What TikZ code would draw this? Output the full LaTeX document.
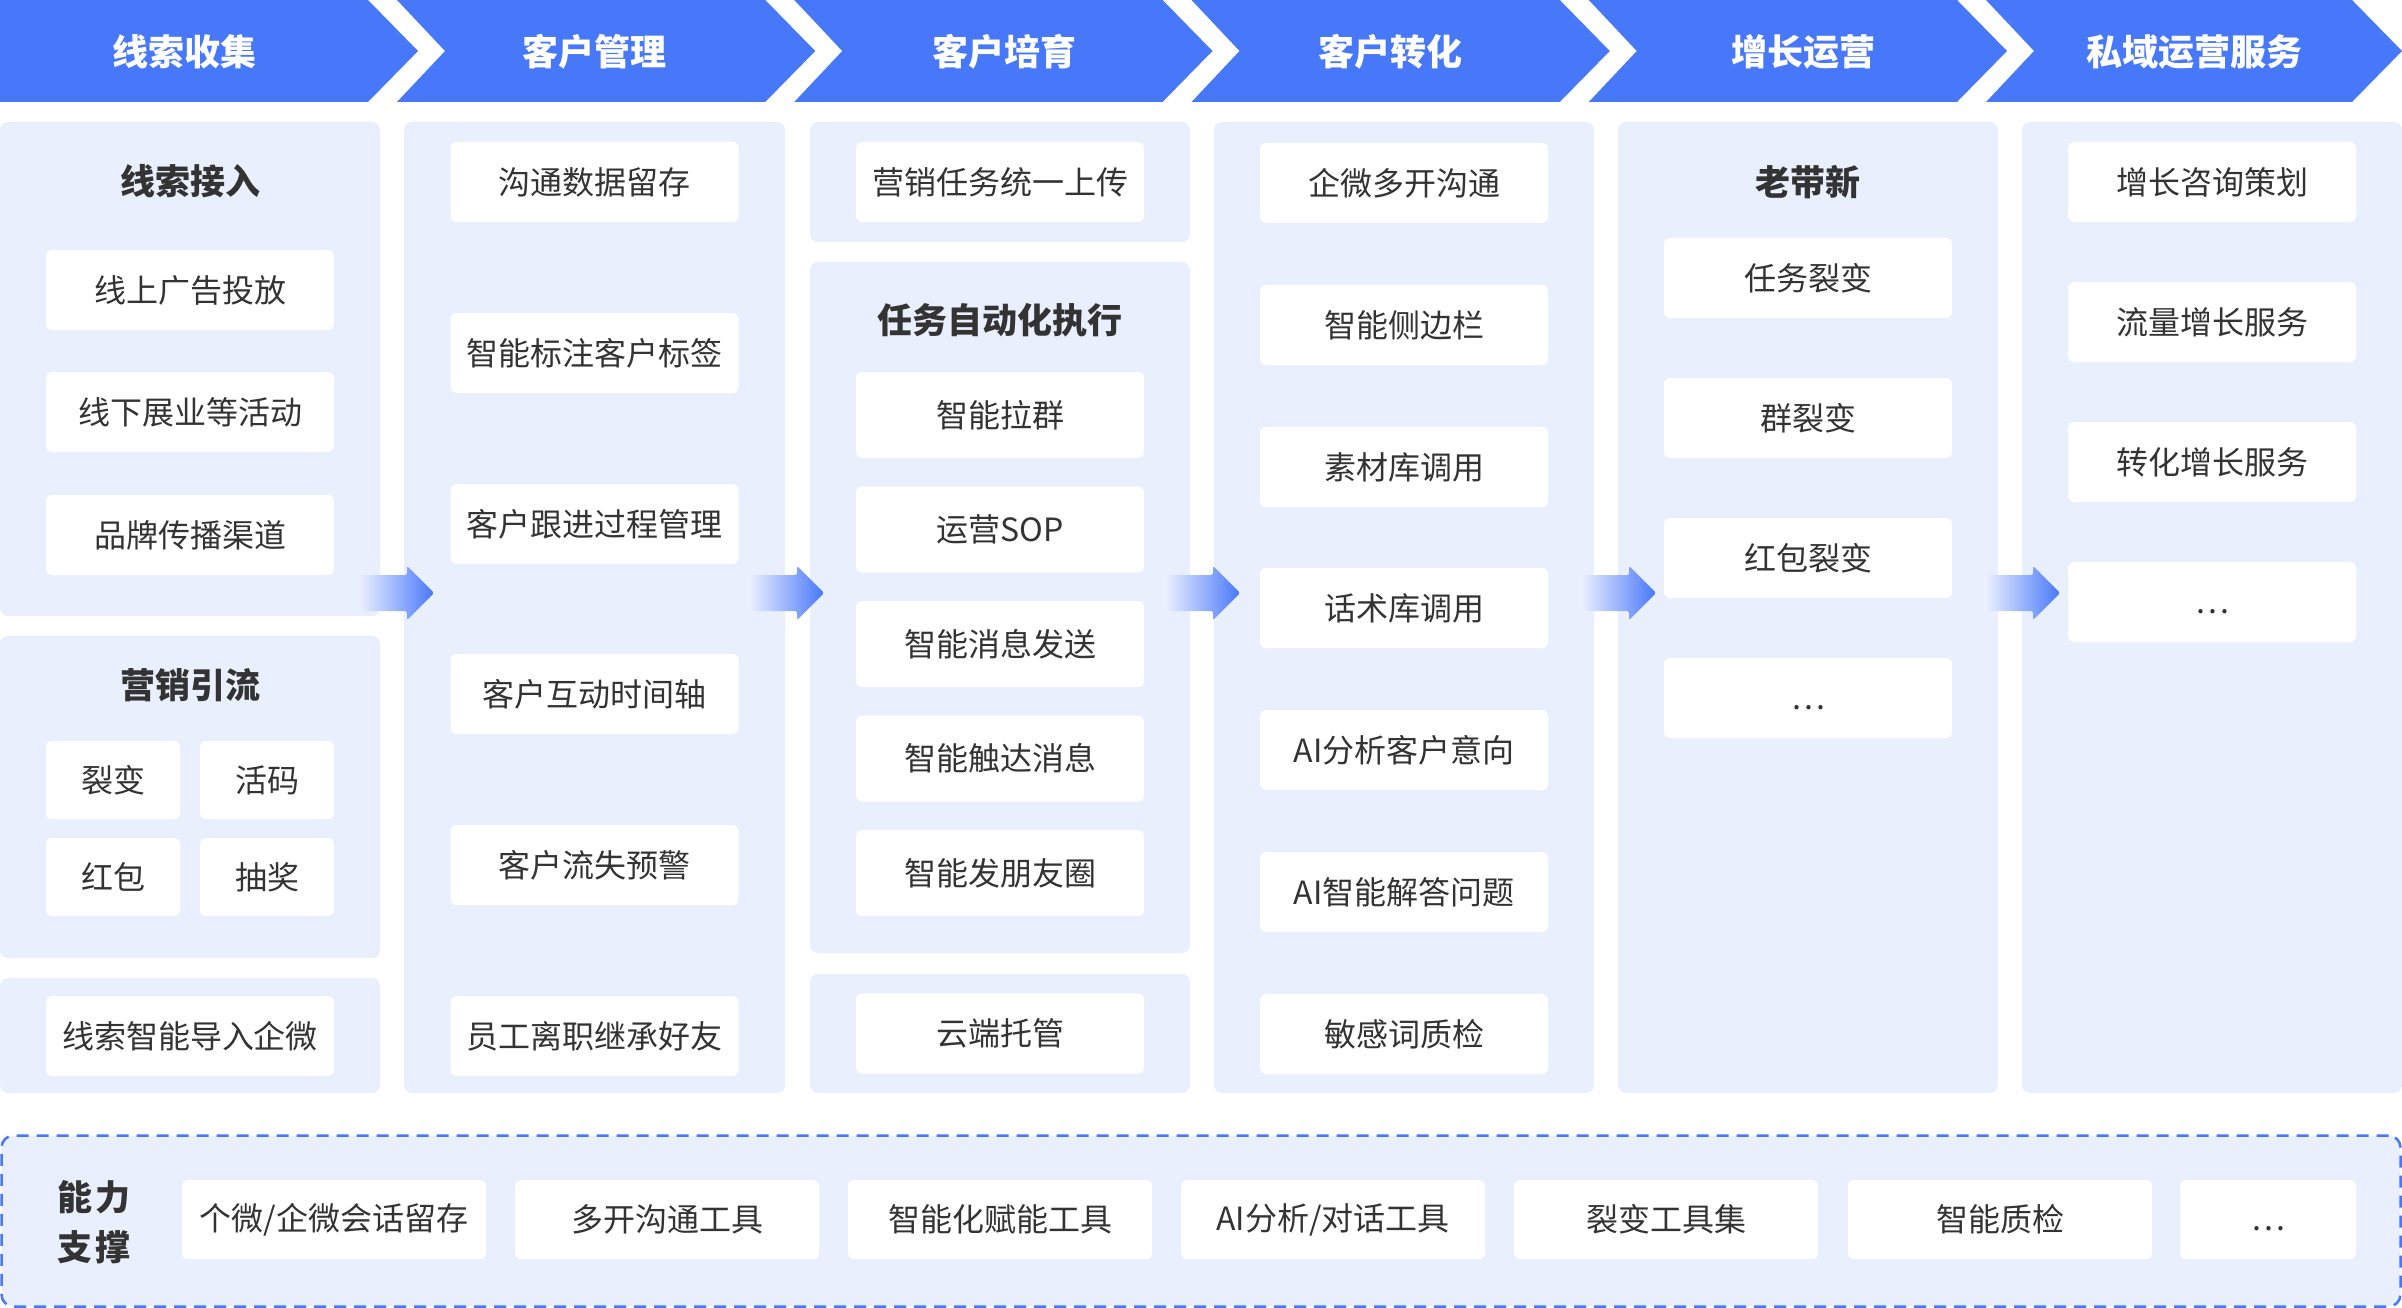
\documentclass[tikz,border=0pt]{standalone}
\usepackage{fontspec}
\setmainfont{Noto Sans CJK SC}
\usetikzlibrary{fit}
\definecolor{hblue}{RGB}{72,120,250}
\definecolor{pbg}{RGB}{233,239,253}
\definecolor{tx}{RGB}{51,51,51}
\definecolor{alight}{RGB}{238,242,254}
\newcommand\lowdots{\smash{\raisebox{-11pt}{…}}}
\begin{document}
\begin{tikzpicture}[x=1pt,y=-1pt,
  panel/.style={fill=pbg, rounded corners=8pt, inner sep=0pt, outer sep=0pt, draw=none},
  box/.style={fill=white, rounded corners=6pt, inner sep=0pt, minimum width=288pt, minimum height=80pt, text=tx, font=\fontsize{32pt}{38pt}\selectfont},
  sbox/.style={box, minimum width=134pt, minimum height=78pt},
  tbox/.style={box, minimum height=86pt},
  bbox/.style={box, minimum width=304pt, minimum height=79pt},
  ttl/.style={text=tx, font=\fontsize{35pt}{40pt}\selectfont\bfseries, inner sep=0pt},
  htxt/.style={text=white, font=\fontsize{36pt}{40pt}\selectfont\bfseries, inner sep=0pt},
  hshape/.style={fill=hblue, draw=none},
  blk/.style={left color=alight, right color=hblue, rounded corners=2pt},
]
\useasboundingbox (0,0) rectangle (2402,1308);

% ---------- header chevrons ----------
\path[hshape] (0,0) -- (368,0) -- (418,51) -- (368,102) -- (0,102) -- cycle;
\path[hshape] (397,0) -- (765.25,0) -- (815.25,51) -- (765.25,102) -- (397,102) -- (445,51) -- cycle;
\path[hshape] (794.25,0) -- (1162.5,0) -- (1212.5,51) -- (1162.5,102) -- (794.25,102) -- (842.25,51) -- cycle;
\path[hshape] (1191.5,0) -- (1559.75,0) -- (1609.75,51) -- (1559.75,102) -- (1191.5,102) -- (1239.5,51) -- cycle;
\path[hshape] (1588.75,0) -- (1957,0) -- (2007,51) -- (1957,102) -- (1588.75,102) -- (1636.75,51) -- cycle;
\path[hshape] (1986,0) -- (2352,0) -- (2402,51) -- (2352,102) -- (1986,102) -- (2034,51) -- cycle;
\node[htxt] (h1) at (184,52) {线索收集};
\node[htxt] (h2) at (594,52) {客户管理};
\node[htxt] (h3) at (1004,52) {客户培育};
\node[htxt] (h4) at (1390,52) {客户转化};
\node[htxt] (h5) at (1803,52) {增长运营};
\node[htxt] (h6) at (2194,52) {私域运营服务};

% ---------- column 1 ----------
\node[panel, fit={(0,122) (380,616)}] (p1a) {};
\node[panel, fit={(0,636) (380,958)}] (p1b) {};
\node[panel, fit={(0,978) (380,1093)}] (p1c) {};
\node[ttl] (t1a) at (190,181) {线索接入};
\node[box] (b11) at (190,290) {线上广告投放};
\node[box] (b12) at (190,412) {线下展业等活动};
\node[box] (b13) at (190,535) {品牌传播渠道};
\node[ttl] (t1b) at (190,685) {营销引流};
\node[sbox] (s1) at (113,780) {裂变};
\node[sbox] (s2) at (267,780) {活码};
\node[sbox] (s3) at (113,877) {红包};
\node[sbox] (s4) at (267,877) {抽奖};
\node[box] (b14) at (190,1036) {线索智能导入企微};

% ---------- column 2 ----------
\node[panel, fit={(404,122) (785,1093)}] (p2) {};
\node[box] (b21) at (594.5,182) {沟通数据留存};
\node[box] (b22) at (594.5,353) {智能标注客户标签};
\node[box] (b23) at (594.5,524) {客户跟进过程管理};
\node[box] (b24) at (594.5,694) {客户互动时间轴};
\node[box] (b25) at (594.5,865) {客户流失预警};
\node[box] (b26) at (594.5,1036) {员工离职继承好友};

% ---------- column 3 ----------
\node[panel, fit={(810,122) (1190,242)}] (p3a) {};
\node[panel, fit={(810,262) (1190,953)}] (p3b) {};
\node[panel, fit={(810,974) (1190,1093)}] (p3c) {};
\node[box] (b31) at (1000,182) {营销任务统一上传};
\node[ttl] (t3) at (1000,320) {任务自动化执行};
\node[tbox] (b32) at (1000,415) {智能拉群};
\node[tbox] (b33) at (1000,529.5) {运营SOP};
\node[tbox] (b34) at (1000,644) {智能消息发送};
\node[tbox] (b35) at (1000,758.5) {智能触达消息};
\node[tbox] (b36) at (1000,873) {智能发朋友圈};
\node[box] (b37) at (1000,1033.5) {云端托管};

% ---------- column 4 ----------
\node[panel, fit={(1214,122) (1594,1093)}] (p4) {};
\node[box] (b41) at (1404,183) {企微多开沟通};
\node[box] (b42) at (1404,325) {智能侧边栏};
\node[box] (b43) at (1404,467) {素材库调用};
\node[box] (b44) at (1404,608) {话术库调用};
\node[box] (b45) at (1404,750) {AI分析客户意向};
\node[box] (b46) at (1404,892) {AI智能解答问题};
\node[box] (b47) at (1404,1034) {敏感词质检};

% ---------- column 5 ----------
\node[panel, fit={(1618,122) (1998,1093)}] (p5) {};
\node[ttl] (t5) at (1808,182) {老带新};
\node[box] (b51) at (1808,278) {任务裂变};
\node[box] (b52) at (1808,418) {群裂变};
\node[box] (b53) at (1808,558) {红包裂变};
\node[box] (b54) at (1808,698) {\lowdots};

% ---------- column 6 ----------
\node[panel, fit={(2022,122) (2402,1093)}] (p6) {};
\node[box] (b61) at (2212,182) {增长咨询策划};
\node[box] (b62) at (2212,322) {流量增长服务};
\node[box] (b63) at (2212,462) {转化增长服务};
\node[box] (b64) at (2212,602) {\lowdots};

% ---------- block arrows between columns ----------
\foreach \t in {434,824,1240,1656,2060}{
  \shade[blk] (\t-76,575) -- (\t-27,575) -- (\t-27,566) -- (\t,593) -- (\t-27,620) -- (\t-27,611) -- (\t-76,611) -- cycle;
}

% ---------- bottom support panel ----------
\node[panel, rounded corners=12pt, draw=hblue, line width=2.5pt, dash pattern=on 12pt off 8pt, fit={(1.5,1135.5) (2400.5,1306.5)}] (pb) {};
\node[text=tx, font=\fontsize{35pt}{50pt}\selectfont\bfseries, inner sep=0pt, align=center] (lb) at (94,1222) {能\hspace{4pt}力\\支\hspace{4pt}撑};
\node[bbox] (c1) at (334,1219.5) {个微/企微会话留存};
\node[bbox] (c2) at (667,1219.5) {多开沟通工具};
\node[bbox] (c3) at (1000,1219.5) {智能化赋能工具};
\node[bbox] (c4) at (1333,1219.5) {AI分析/对话工具};
\node[bbox] (c5) at (1666,1219.5) {裂变工具集};
\node[bbox] (c6) at (2000,1219.5) {智能质检};
\node[bbox, minimum width=176pt] (c7) at (2268,1219.5) {\lowdots};
\end{tikzpicture}
\end{document}
